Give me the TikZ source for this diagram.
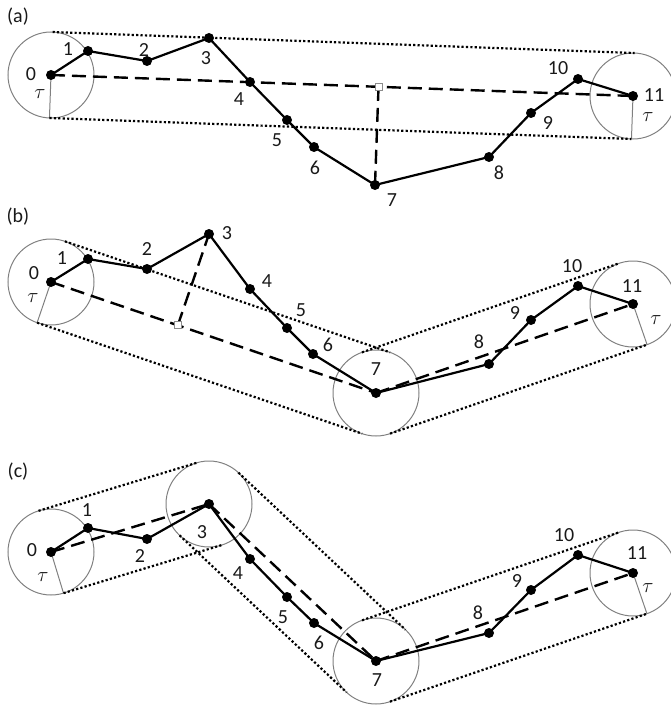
\documentclass[tikz,border=0pt]{standalone}
\usepackage{fontspec}
\setmainfont{Carlito}
\usetikzlibrary{calc}
\begin{document}
\begin{tikzpicture}[x=1pt,y=-1pt,
  vtx/.style={circle,fill=black,inner sep=0pt,minimum size=10pt},
  lbl/.style={font=\fontsize{20}{20}\selectfont,inner sep=0pt,text=black!90},
  ring/.style={draw=black!50,line width=1pt},
  dotline/.style={draw=black,line width=2.2pt,dash pattern=on 2.2pt off 2.2pt},
  chord/.style={draw=black,line width=2.4pt,dash pattern=on 14pt off 7pt},
  traj/.style={draw=black,line width=2.2pt,line join=round},
  foot/.style={draw=black!45,fill=white,line width=0.8pt,inner sep=0pt,minimum size=7pt}]
\useasboundingbox (0,0) rectangle (670,706);
\def\R{43pt}
% ---------------- (a) ----------------
\foreach \n/\x/\y in {0/51/75,1/88/51,2/147/61,3/209/38,4/250/82,5/287/120,6/314/147,7/375/185,8/489/157,9/531/113,10/578/79,11/633/96}
  \coordinate (a\n) at (\x,\y);
\draw[ring] (a0) circle[radius=\R];
\draw[ring] (a11) circle[radius=\R];
\draw[ring] (a0) -- ($(a0)!\R!-90:(a11)$);
\draw[ring] (a11) -- ($(a11)!\R!90:(a0)$);
\draw[dotline] ($(a0)!\R!90:(a11)$) -- ($(a11)!\R!-90:(a0)$);
\draw[dotline] ($(a0)!\R!-90:(a11)$) -- ($(a11)!\R!90:(a0)$);
\draw[chord] (a0) -- (a11);
\coordinate (fa) at ($(a0)!(a7)!(a11)$);
\draw[chord] (fa) -- (a7);
\node[foot] (sqa) at (fa) {};
\draw[traj] (a0) -- (a1) -- (a2) -- (a3) -- (a4) -- (a5) -- (a6) -- (a7) -- (a8) -- (a9) -- (a10) -- (a11);
\foreach \n in {0,...,11} \node[vtx] (da\n) at (a\n) {};
\foreach \n/\x/\y in {0/31/74,1/68/49,2/144/50,3/206/58,4/239/99,5/277/140,6/315/168,7/392/200,8/499/173,9/548/123,10/558/68,11/654/95}
  \node[lbl] (la\n) at (\x,\y) {\n};
\node[lbl] (ta0) at (40,94) {$\tau$};
\node[lbl] (ta11) at (648,117) {$\tau$};
\node[lbl] (pa) at (18,17) {(a)};
% ---------------- (b) ----------------
\foreach \n/\x/\y in {0/51/282,1/88/259,2/147/269,3/209/234,4/250/289,5/287/328,6/313/354,7/376/393,8/489/364,9/531/320,10/578/286,11/633/304}
  \coordinate (b\n) at (\x,\y);
\foreach \n in {0,7,11} \draw[ring] (b\n) circle[radius=\R];
\draw[ring] (b0) -- ($(b0)!\R!-90:(b7)$);
\draw[ring] (b11) -- ($(b11)!\R!90:(b7)$);
\draw[dotline] ($(b0)!\R!90:(b7)$) -- ($(b7)!\R!-90:(b0)$);
\draw[dotline] ($(b0)!\R!-90:(b7)$) -- ($(b7)!\R!90:(b0)$);
\draw[dotline] ($(b7)!\R!90:(b11)$) -- ($(b11)!\R!-90:(b7)$);
\draw[dotline] ($(b7)!\R!-90:(b11)$) -- ($(b11)!\R!90:(b7)$);
\draw[chord] (b0) -- (b7);
\draw[chord] (b7) -- (b11);
\coordinate (fb) at ($(b0)!(b3)!(b7)$);
\draw[chord] (fb) -- (b3);
\node[foot] (sqb) at (fb) {};
\draw[traj] (b0) -- (b1) -- (b2) -- (b3) -- (b4) -- (b5) -- (b6) -- (b7) -- (b8) -- (b9) -- (b10) -- (b11);
\foreach \n in {0,...,11} \node[vtx] (db\n) at (b\n) {};
\foreach \n/\x/\y in {0/34/273,1/62/258,2/147/249,3/227/233,4/267/281,5/301/310,6/328/345,7/376/369,8/479/342,9/515/313,10/572/266,11/632/286}
  \node[lbl] (lb\n) at (\x,\y) {\n};
\node[lbl] (tb0) at (33,298) {$\tau$};
\node[lbl] (tb11) at (656,320) {$\tau$};
\node[lbl] (pb) at (18,217) {(b)};
% ---------------- (c) ----------------
\foreach \n/\x/\y in {0/51/552,1/88/528,2/147/539,3/209/504,4/250/559,5/287/597,6/314/623,7/376/661,8/489/633,9/531/590,10/578/555,11/633/573}
  \coordinate (c\n) at (\x,\y);
\foreach \n in {0,3,7,11} \draw[ring] (c\n) circle[radius=\R];
\draw[ring] (c0) -- ($(c0)!\R!-90:(c3)$);
\draw[ring] (c11) -- ($(c11)!\R!90:(c7)$);
\draw[dotline] ($(c0)!\R!90:(c3)$) -- ($(c3)!\R!-90:(c0)$);
\draw[dotline] ($(c0)!\R!-90:(c3)$) -- ($(c3)!\R!90:(c0)$);
\draw[dotline] ($(c3)!\R!90:(c7)$) -- ($(c7)!\R!-90:(c3)$);
\draw[dotline] ($(c3)!\R!-90:(c7)$) -- ($(c7)!\R!90:(c3)$);
\draw[dotline] ($(c7)!\R!90:(c11)$) -- ($(c11)!\R!-90:(c7)$);
\draw[dotline] ($(c7)!\R!-90:(c11)$) -- ($(c11)!\R!90:(c7)$);
\draw[chord] (c0) -- (c3);
\draw[chord] (c3) -- (c7);
\draw[chord] (c7) -- (c11);
\draw[traj] (c0) -- (c1) -- (c2) -- (c3) -- (c4) -- (c5) -- (c6) -- (c7) -- (c8) -- (c9) -- (c10) -- (c11);
\foreach \n in {0,...,11} \node[vtx] (dc\n) at (c\n) {};
\foreach \n/\x/\y in {0/32/550,1/87/510,2/140/556,3/202/532,4/238/573,5/283/617,6/319/643,7/377/680,8/478/613,9/517/581,10/564/535,11/637/553}
  \node[lbl] (lc\n) at (\x,\y) {\n};
\node[lbl] (tc0) at (43,577) {$\tau$};
\node[lbl] (tc11) at (648,588) {$\tau$};
\node[lbl] (pc) at (18,472) {(c)};
\end{tikzpicture}
\end{document}
